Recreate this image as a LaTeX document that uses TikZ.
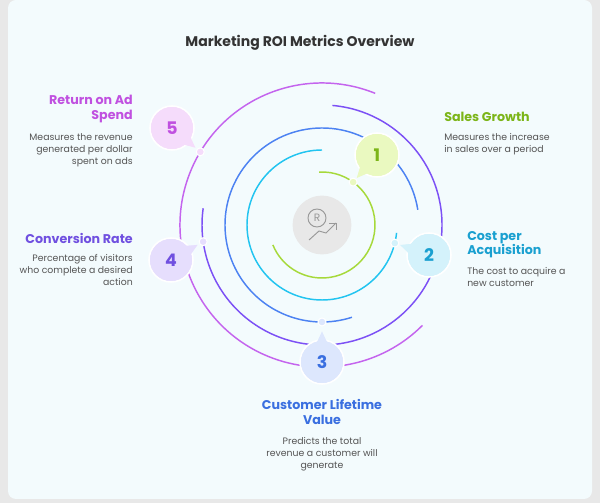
\documentclass[tikz,border=0pt]{standalone}
\usepackage{fontspec}
\setmainfont{Poppins}
\usetikzlibrary{calc}
\definecolor{bgc}{HTML}{F3FBFD}
\definecolor{gA}{HTML}{A6D93A}\definecolor{gF}{HTML}{EAF9C0}\definecolor{gT}{HTML}{7CB518}
\definecolor{cA}{HTML}{22C4F0}\definecolor{cF}{HTML}{D4F2FB}\definecolor{cT}{HTML}{1AA0D0}
\definecolor{bA}{HTML}{4C82F2}\definecolor{bF}{HTML}{DDE7FD}\definecolor{bT}{HTML}{3A6FE0}
\definecolor{pA}{HTML}{7C50F5}\definecolor{pF}{HTML}{E6DEFD}\definecolor{pT}{HTML}{7050E0}
\definecolor{kA}{HTML}{C464EE}\definecolor{kF}{HTML}{F5DCFB}\definecolor{kT}{HTML}{C050E0}
\definecolor{txt}{HTML}{555555}
\tikzset{
  ring/.style={line width=1.1pt},
  head/.style={font=\fontsize{9.5}{11}\selectfont\bfseries, inner sep=0pt},
  desc/.style={font=\fontsize{7}{9}\selectfont, text=txt, inner sep=0pt},
  num/.style={font=\fontsize{13}{13}\selectfont\bfseries}
}
\newcommand{\badge}[5]{% name, pos, dot, fill, text
  \coordinate (#1) at #2;
  \fill[#4] ($(#1)!10pt!90:#3$) -- ($(#1)!23pt!#3$) -- ($(#1)!10pt!-90:#3$) -- cycle;
  \node[circle, minimum size=33pt, fill=#4, draw=white, line width=1.2pt, text=#5, num] (#1n) at (#1) {\ };
  \fill[#4] ($(#1)!12pt!90:#3$) -- ($(#1)!22pt!#3$) -- ($(#1)!12pt!-90:#3$) -- cycle;
  \node[circle, minimum size=31pt, fill=#4, text=#5, num] at (#1) {#1};
}
\begin{document}
\begin{tikzpicture}[x=0.75pt,y=0.75pt]
\fill[gray!18] (0,0) rectangle (600,503);
\useasboundingbox (0,0) rectangle (600,503);
\fill[bgc, rounded corners=6pt] (8,4) rectangle (592,503);
\node[font=\fontsize{10.5}{12}\selectfont\bfseries, text=black!80] (title) at (300,460) {Marketing ROI Metrics Overview};
\coordinate (C) at (322,278);
% rings
\draw[ring, gA] (C) ++(93:53) arc[start angle=93, end angle=-158, radius=53];
\draw[ring, cA] (C) ++(90:75) arc[start angle=90, end angle=354, radius=75];
\draw[ring, bA] (C) ++(9:97) arc[start angle=9, end angle=288, radius=97];
\draw[ring, pA] (C) ++(85:120) arc[start angle=85, end angle=-188, radius=120];
\draw[ring, kA] (C) ++(68:142) arc[start angle=68, end angle=315, radius=142];
% dots
\coordinate (d1) at ($(C)+(54:53)$);
\coordinate (d2) at ($(C)+(-14:75)$);
\coordinate (d3) at ($(C)+(270:97)$);
\coordinate (d4) at ($(C)+(188:120)$);
\coordinate (d5) at ($(C)+(149:142)$);
\foreach \d/\f in {d1/gF,d2/cF,d3/bF,d4/pF,d5/kF}
  \fill[\f, draw=white, line width=0.8pt] (\d) circle (4);
% center
\node[circle, fill=gray!18, minimum size=44pt] (ctr) at (C) {};
\draw[gray!80, line width=0.7pt] ($(C)+(-5,7)$) circle (9);
\node[text=gray!80, font=\fontsize{8}{8}\selectfont, inner sep=0pt] (R) at ($(C)+(-5,7)$) {R};
\draw[gray!80, line width=0.7pt] ($(C)+(-13,-15)$) -- ($(C)+(-3,-6)$) -- ($(C)+(4,-8)$) -- ($(C)+(14,2)$);
\draw[gray!80, line width=0.7pt] ($(C)+(7,2)$) -- ($(C)+(14,2)$) -- ($(C)+(14,-5)$);
% badges
\badge{1}{(377,348)}{(d1)}{gF}{gT}
\badge{2}{(429,248)}{(d2)}{cF}{cT}
\badge{3}{(322,141)}{(d3)}{bF}{bT}
\badge{4}{(171,243)}{(d4)}{pF}{pT}
\badge{5}{(172,375)}{(d5)}{kF}{kT}
% texts
\node[head, text=gT, anchor=west] (h1) at (444,386) {Sales Growth};
\node[desc, anchor=north west, align=left] (t1) at (444,370) {Measures the increase\\in sales over a period};
\node[head, text=cT, anchor=north west, align=left] (h2) at (467,272) {Cost per\\Acquisition};
\node[desc, anchor=north west, align=left] (t2) at (467,236) {The cost to acquire a\\new customer};
\node[head, text=bT, anchor=north, align=center] (h3) at (322,104) {Customer Lifetime\\Value};
\node[desc, anchor=north, align=center] (t3) at (322,66) {Predicts the total\\revenue a customer will\\generate};
\node[head, text=pT, anchor=east] (h4) at (133,265) {Conversion Rate};
\node[desc, anchor=north east, align=right] (t4) at (133,249) {Percentage of visitors\\who complete a desired\\action};
\node[head, text=kT, anchor=north east, align=right] (h5) at (133,408) {Return on Ad\\Spend};
\node[desc, anchor=north east, align=right] (t5) at (133,370) {Measures the revenue\\generated per dollar\\spent on ads};
\end{tikzpicture}
\end{document}
